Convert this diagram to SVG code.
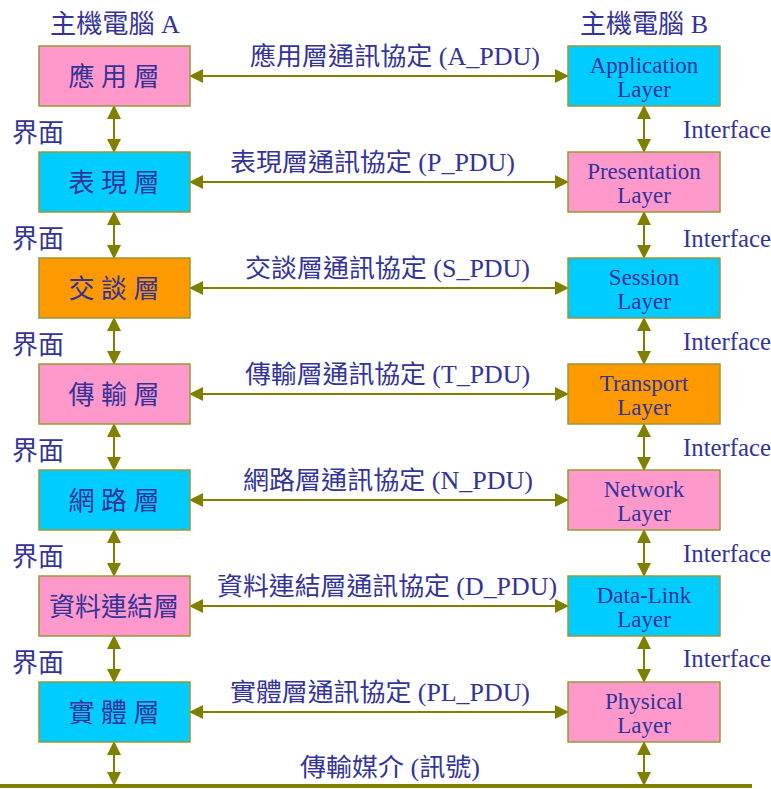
<svg xmlns="http://www.w3.org/2000/svg" width="771" height="789" viewBox="0 0 771 789">
<defs>
<style>
.t{font-family:"Liberation Serif","Noto Sans CJK TC",serif;fill:#333399;}
.cn{font-size:25px;}
.bx{stroke:#999933;stroke-width:1.5;}
.pk{fill:#FF99CC;}
.cy{fill:#00CCFF;}
.or{fill:#FF9900;}
.ar{stroke:#808000;stroke-width:2;fill:none;marker-start:url(#ah);marker-end:url(#ah);}
.en{font-size:23px;text-anchor:middle;}
.ln{font-size:26px;text-anchor:middle;}
.if{font-size:26px;}
.ie{font-size:25px;}
</style>
<marker id="ah" viewBox="0 0 14 14" refX="13" refY="7" markerWidth="14" markerHeight="14" markerUnits="userSpaceOnUse" orient="auto-start-reverse">
<path d="M0,0 L14,7 L0,14 Z" fill="#808000"/>
</marker>
</defs>
<rect width="771" height="789" fill="#fff"/>
<g id="titles">
<text class="t" x="50" y="33" font-size="26" textLength="130" lengthAdjust="spacingAndGlyphs">主機電腦 A</text>
<text class="t" x="580" y="33" font-size="26" textLength="128" lengthAdjust="spacingAndGlyphs">主機電腦 B</text>
</g>
<g id="connectors">
<line class="ar" x1="190" y1="76" x2="568" y2="76"/>
<line class="ar" x1="190" y1="182" x2="568" y2="182"/>
<line class="ar" x1="190" y1="288" x2="568" y2="288"/>
<line class="ar" x1="190" y1="394" x2="568" y2="394"/>
<line class="ar" x1="190" y1="500" x2="568" y2="500"/>
<line class="ar" x1="190" y1="606" x2="568" y2="606"/>
<line class="ar" x1="190" y1="712" x2="568" y2="712"/>
<line class="ar" x1="114" y1="106" x2="114" y2="152"/>
<line class="ar" x1="114" y1="212" x2="114" y2="258"/>
<line class="ar" x1="114" y1="318" x2="114" y2="364"/>
<line class="ar" x1="114" y1="424" x2="114" y2="470"/>
<line class="ar" x1="114" y1="530" x2="114" y2="576"/>
<line class="ar" x1="114" y1="636" x2="114" y2="682"/>
<line class="ar" x1="114" y1="742" x2="114" y2="785"/>
<line class="ar" x1="644" y1="106" x2="644" y2="152"/>
<line class="ar" x1="644" y1="212" x2="644" y2="258"/>
<line class="ar" x1="644" y1="318" x2="644" y2="364"/>
<line class="ar" x1="644" y1="424" x2="644" y2="470"/>
<line class="ar" x1="644" y1="530" x2="644" y2="576"/>
<line class="ar" x1="644" y1="636" x2="644" y2="682"/>
<line class="ar" x1="644" y1="742" x2="644" y2="785"/>
</g>
<g id="medium">
<line x1="0" y1="786" x2="752" y2="786" stroke="#808000" stroke-width="4"/>
<text class="t" x="300" y="776" font-size="25" textLength="180" lengthAdjust="spacingAndGlyphs">傳輸媒介 (訊號)</text>
</g>
<g id="protocol-labels">
<text class="t cn" x="250" y="65" textLength="290" lengthAdjust="spacingAndGlyphs">應用層通訊協定 (A_PDU)</text>
<text class="t cn" x="230" y="171" textLength="285" lengthAdjust="spacingAndGlyphs">表現層通訊協定 (P_PDU)</text>
<text class="t cn" x="245" y="277" textLength="285" lengthAdjust="spacingAndGlyphs">交談層通訊協定 (S_PDU)</text>
<text class="t cn" x="245" y="383" textLength="285" lengthAdjust="spacingAndGlyphs">傳輸層通訊協定 (T_PDU)</text>
<text class="t cn" x="243" y="489" textLength="290" lengthAdjust="spacingAndGlyphs">網路層通訊協定 (N_PDU)</text>
<text class="t cn" x="217" y="595" textLength="340" lengthAdjust="spacingAndGlyphs">資料連結層通訊協定 (D_PDU)</text>
<text class="t cn" x="230" y="701" textLength="300" lengthAdjust="spacingAndGlyphs">實體層通訊協定 (PL_PDU)</text>
</g>
<g id="interface-labels">
<text class="t if" x="12" y="142">界面</text>
<text class="t if" x="12" y="248">界面</text>
<text class="t if" x="12" y="354">界面</text>
<text class="t if" x="12" y="460">界面</text>
<text class="t if" x="12" y="566">界面</text>
<text class="t if" x="12" y="672">界面</text>
<text class="t ie" x="683" y="138" textLength="88" lengthAdjust="spacingAndGlyphs">Interface</text>
<text class="t ie" x="683" y="247" textLength="88" lengthAdjust="spacingAndGlyphs">Interface</text>
<text class="t ie" x="683" y="350" textLength="88" lengthAdjust="spacingAndGlyphs">Interface</text>
<text class="t ie" x="683" y="456" textLength="88" lengthAdjust="spacingAndGlyphs">Interface</text>
<text class="t ie" x="683" y="562" textLength="88" lengthAdjust="spacingAndGlyphs">Interface</text>
<text class="t ie" x="683" y="667" textLength="88" lengthAdjust="spacingAndGlyphs">Interface</text>
</g>
<g id="a-app"><rect class="bx pk" x="39" y="46" width="151" height="60"/><text class="t ln" x="114" y="86">應 用 層</text></g>
<g id="a-pres"><rect class="bx cy" x="39" y="152" width="151" height="60"/><text class="t ln" x="114" y="192">表 現 層</text></g>
<g id="a-sess"><rect class="bx or" x="39" y="258" width="151" height="60"/><text class="t ln" x="114" y="298">交 談 層</text></g>
<g id="a-trans"><rect class="bx pk" x="39" y="364" width="151" height="60"/><text class="t ln" x="114" y="404">傳 輸 層</text></g>
<g id="a-net"><rect class="bx cy" x="39" y="470" width="151" height="60"/><text class="t ln" x="114" y="510">網 路 層</text></g>
<g id="a-dl"><rect class="bx pk" x="39" y="576" width="151" height="60"/><text class="t ln" x="114" y="616">資料連結層</text></g>
<g id="a-phy"><rect class="bx cy" x="39" y="682" width="151" height="60"/><text class="t ln" x="114" y="722">實 體 層</text></g>
<g id="b-app"><rect class="bx cy" x="568" y="46" width="152" height="60"/><text class="t en" x="644" y="73">Application</text><text class="t en" x="644" y="97">Layer</text></g>
<g id="b-pres"><rect class="bx pk" x="568" y="152" width="152" height="60"/><text class="t en" x="644" y="179">Presentation</text><text class="t en" x="644" y="203">Layer</text></g>
<g id="b-sess"><rect class="bx cy" x="568" y="258" width="152" height="60"/><text class="t en" x="644" y="285">Session</text><text class="t en" x="644" y="309">Layer</text></g>
<g id="b-trans"><rect class="bx or" x="568" y="364" width="152" height="60"/><text class="t en" x="644" y="391">Transport</text><text class="t en" x="644" y="415">Layer</text></g>
<g id="b-net"><rect class="bx pk" x="568" y="470" width="152" height="60"/><text class="t en" x="644" y="497">Network</text><text class="t en" x="644" y="521">Layer</text></g>
<g id="b-dl"><rect class="bx cy" x="568" y="576" width="152" height="60"/><text class="t en" x="644" y="603">Data-Link</text><text class="t en" x="644" y="627">Layer</text></g>
<g id="b-phy"><rect class="bx pk" x="568" y="682" width="152" height="60"/><text class="t en" x="644" y="709">Physical</text><text class="t en" x="644" y="733">Layer</text></g>
</svg>
